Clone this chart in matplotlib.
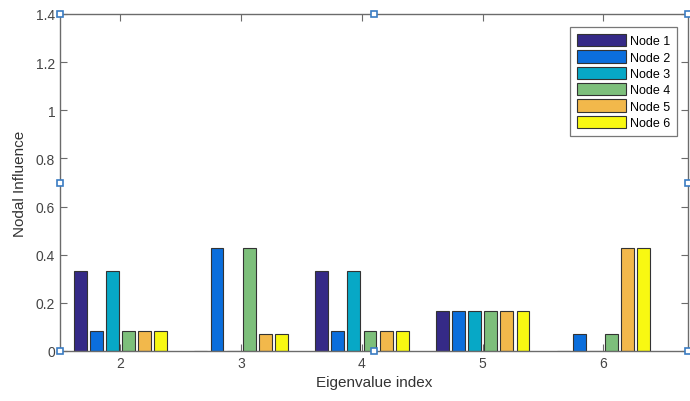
import numpy as np
import matplotlib
matplotlib.use("Agg")
import matplotlib.pyplot as plt
from matplotlib.ticker import FuncFormatter

plt.rcParams["font.family"] = ["Liberation Sans", "DejaVu Sans"]

# Eigenvalue indices and per-node influence values
eigen_index = [2, 3, 4, 5, 6]
node_labels = ["Node 1", "Node 2", "Node 3", "Node 4", "Node 5", "Node 6"]
node1 = [0.333, 0.0, 0.333, 0.1667, 0.0]
node2 = [0.0833, 0.4286, 0.0833, 0.1667, 0.0714]
node3 = [0.333, 0.0, 0.333, 0.1667, 0.0]
node4 = [0.0833, 0.4286, 0.0833, 0.1667, 0.0714]
node5 = [0.0833, 0.0714, 0.0833, 0.1667, 0.4286]
node6 = [0.0833, 0.0714, 0.0833, 0.1667, 0.4286]
series = [node1, node2, node3, node4, node5, node6]

colors = ["#352A87", "#0B6EDC", "#07A8C6", "#7DBF7B", "#F2B84B", "#F8F812"]
axis_gray = "#6B6B6B"

fig = plt.figure(figsize=(6.9, 4.02), dpi=100)
ax = fig.add_axes([60 / 690, 50 / 402, 628 / 690, 337 / 402])

n = len(series)
group_w = 0.8
step = group_w / n
bar_w = step * 0.8
x = np.array(eigen_index, dtype=float)
for i, (vals, c, lab) in enumerate(zip(series, colors, node_labels)):
    offs = -group_w / 2 + step * (i + 0.5)
    ax.bar(x + offs, vals, width=bar_w, color=c, edgecolor="#333333",
           linewidth=0.8, label=lab, zorder=2)

ax.set_xlim(1.5, 6.7)
ax.set_ylim(0, 1.4)
ax.set_xticks(eigen_index)
ax.set_yticks(np.arange(0, 1.41, 0.2))
ax.yaxis.set_major_formatter(FuncFormatter(lambda v, p: f"{v:g}"))

for s in ax.spines.values():
    s.set_color(axis_gray)
    s.set_linewidth(1.0)
ax.tick_params(direction="in", length=5, width=0.8, color=axis_gray,
               labelcolor="#444444", labelsize=10,
               top=True, right=True)
ax.set_xlabel("Eigenvalue index", fontsize=11, color="#333333", labelpad=4)
ax.set_ylabel("Nodal Influence", fontsize=11, color="#333333", labelpad=6)

leg = ax.legend(loc="upper right", bbox_to_anchor=(0.982, 0.962), fontsize=9,
                frameon=True, fancybox=False, edgecolor="#555555",
                handlelength=3.9, handleheight=1.15, handletextpad=0.3,
                labelspacing=0.24, borderpad=0.55, borderaxespad=0.0)
leg.get_frame().set_linewidth(0.9)

# selection handles around the axes box
hx = [0, 0.5, 1, 0, 1, 0, 0.5, 1]
hy = [1, 1, 1, 0.5, 0.5, 0, 0, 0]
ax.plot(hx, hy, linestyle="none", marker="s", markersize=5,
        markerfacecolor="white", markeredgecolor="#3A7CC2",
        markeredgewidth=1.2, transform=ax.transAxes, clip_on=False, zorder=5)

fig.savefig("out.png", dpi=100)
